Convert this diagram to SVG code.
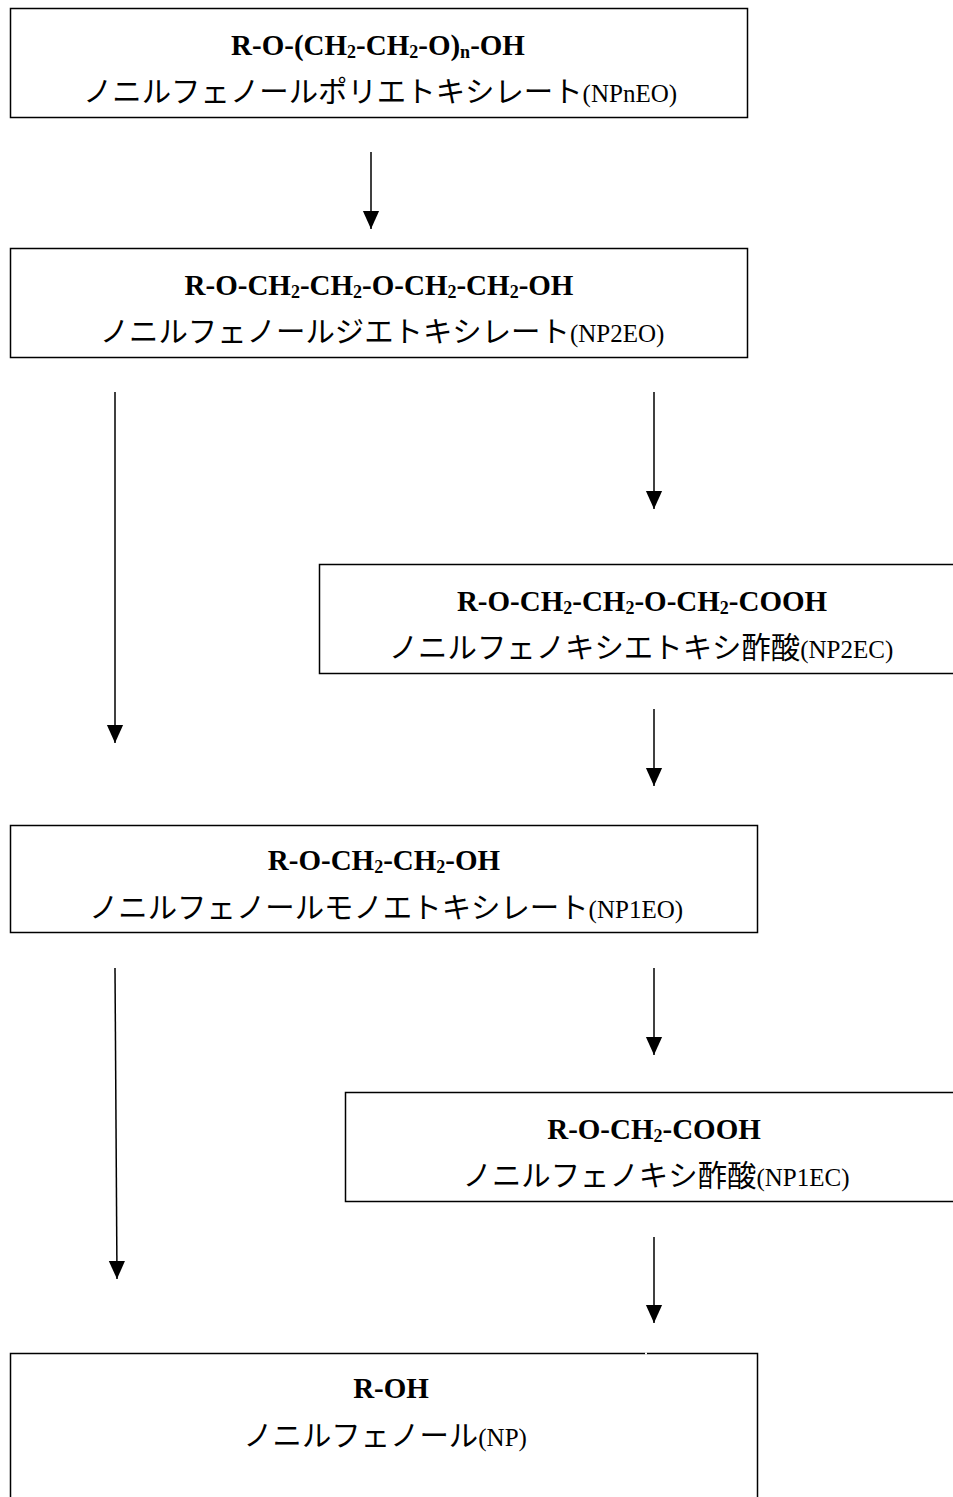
<svg xmlns="http://www.w3.org/2000/svg" width="953" height="1497" viewBox="0 0 953 1497">
<style>
.box{fill:#fff;stroke:#000;stroke-width:1.5}
.f{font-family:"Liberation Serif","Times New Roman",serif;font-weight:bold;font-size:29px;fill:#000;text-anchor:middle}
.j{font-family:"Noto Sans CJK JP","Noto Sans",sans-serif;font-size:29.4px;fill:#000;text-anchor:middle}
.l{font-family:"Liberation Serif","Times New Roman",serif;font-size:25px}
.s{font-size:18px}
.c{stroke:#000;stroke-width:1.5;fill:none}
</style>
<defs>
<marker id="arr" markerUnits="userSpaceOnUse" markerWidth="18" markerHeight="20" refX="20" refY="9" orient="auto" viewBox="0 0 20 18">
<path d="M0,0 L20,9 L0,18 Z" fill="#000"/>
</marker>
</defs>

<g id="connectors">
<line class="c" x1="371" y1="152" x2="371" y2="229" marker-end="url(#arr)"/>
<line class="c" x1="115" y1="392" x2="115" y2="743" marker-end="url(#arr)"/>
<line class="c" x1="654" y1="392" x2="654" y2="509" marker-end="url(#arr)"/>
<line class="c" x1="654" y1="709" x2="654" y2="786" marker-end="url(#arr)"/>
<line class="c" x1="115" y1="968" x2="117" y2="1279" marker-end="url(#arr)"/>
<line class="c" x1="654" y1="968" x2="654" y2="1055" marker-end="url(#arr)"/>
<line class="c" x1="654" y1="1237" x2="654" y2="1323" marker-end="url(#arr)"/>
</g>

<g id="npneo">
<rect class="box" x="10.5" y="8.5" width="737" height="109"/>
<text class="f" x="378" y="55">R-O-(CH<tspan class="s" dy="3">2</tspan><tspan dy="-3">-CH</tspan><tspan class="s" dy="3">2</tspan><tspan dy="-3">-O)</tspan><tspan class="s" dy="3">n</tspan><tspan dy="-3">-OH</tspan></text>
<text class="j" x="380" y="102">ノニルフェノールポリエトキシレート<tspan class="l">(NPnEO)</tspan></text>
</g>

<g id="np2eo">
<rect class="box" x="10.5" y="248.5" width="737" height="109"/>
<text class="f" x="379" y="295">R-O-CH<tspan class="s" dy="3">2</tspan><tspan dy="-3">-CH</tspan><tspan class="s" dy="3">2</tspan><tspan dy="-3">-O-CH</tspan><tspan class="s" dy="3">2</tspan><tspan dy="-3">-CH</tspan><tspan class="s" dy="3">2</tspan><tspan dy="-3">-OH</tspan></text>
<text class="j" x="382" y="342">ノニルフェノールジエトキシレート<tspan class="l">(NP2EO)</tspan></text>
</g>

<g id="np2ec">
<rect class="box" x="319.5" y="564.5" width="650" height="109"/>
<text class="f" x="642" y="611">R-O-CH<tspan class="s" dy="3">2</tspan><tspan dy="-3">-CH</tspan><tspan class="s" dy="3">2</tspan><tspan dy="-3">-O-CH</tspan><tspan class="s" dy="3">2</tspan><tspan dy="-3">-COOH</tspan></text>
<text class="j" x="641" y="658">ノニルフェノキシエトキシ酢酸<tspan class="l">(NP2EC)</tspan></text>
</g>

<g id="np1eo">
<rect class="box" x="10.5" y="825.5" width="747" height="107"/>
<text class="f" x="384" y="870">R-O-CH<tspan class="s" dy="3">2</tspan><tspan dy="-3">-CH</tspan><tspan class="s" dy="3">2</tspan><tspan dy="-3">-OH</tspan></text>
<text class="j" x="386" y="918">ノニルフェノールモノエトキシレート<tspan class="l">(NP1EO)</tspan></text>
</g>

<g id="np1ec">
<rect class="box" x="345.5" y="1092.5" width="620" height="109"/>
<text class="f" x="654" y="1139">R-O-CH<tspan class="s" dy="3">2</tspan><tspan dy="-3">-COOH</tspan></text>
<text class="j" x="656" y="1186">ノニルフェノキシ酢酸<tspan class="l">(NP1EC)</tspan></text>
</g>

<g id="np">
<rect class="box" x="10.5" y="1353.5" width="747" height="160"/>
<line x1="645" y1="1353.5" x2="647" y2="1353.5" stroke="#fff" stroke-width="2"/>
<text class="f" x="391" y="1398">R-OH</text>
<text class="j" x="385" y="1446">ノニルフェノール<tspan class="l">(NP)</tspan></text>
</g>
</svg>
